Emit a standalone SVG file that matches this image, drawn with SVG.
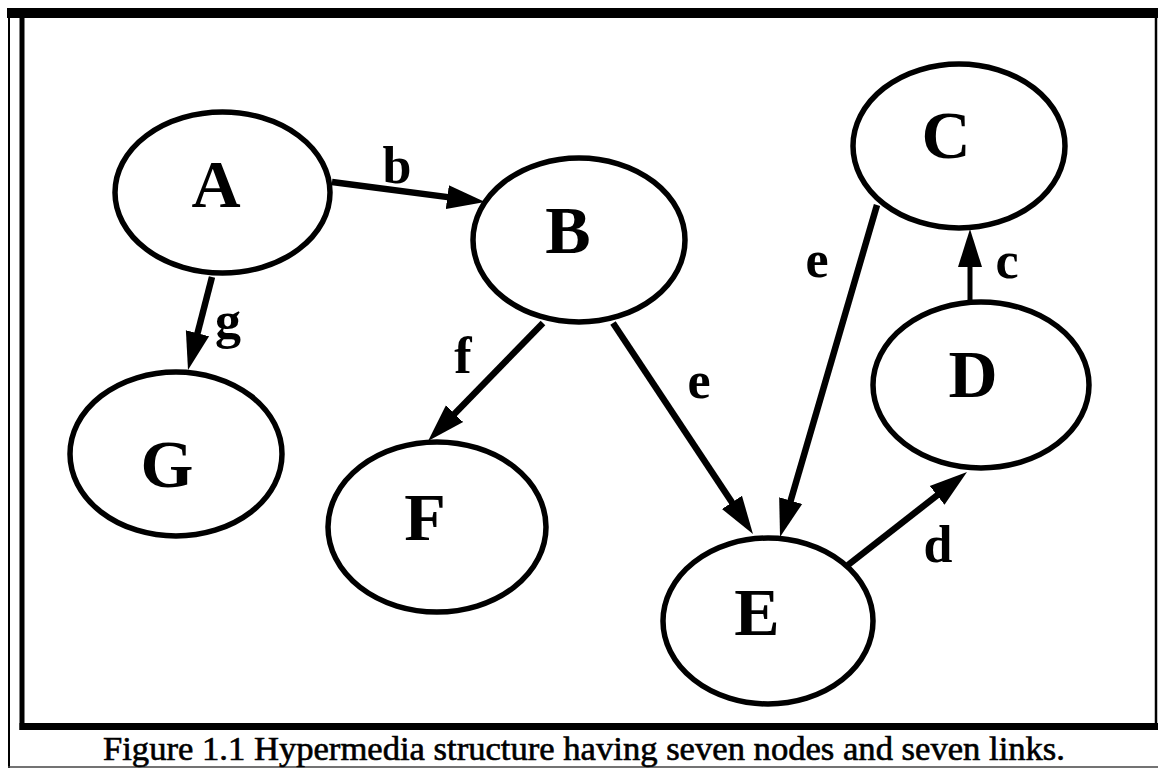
<svg xmlns="http://www.w3.org/2000/svg" width="1158" height="770" viewBox="0 0 1158 770">
  <style>
    .node { fill: #fff; stroke: #000; stroke-width: 5.5; }
    .nlabel { font-family: "Liberation Serif", "Times New Roman", serif; font-weight: bold; font-size: 68px; text-anchor: middle; fill: #000; }
    .elabel { font-family: "Liberation Serif", "Times New Roman", serif; font-weight: bold; font-size: 52px; text-anchor: middle; fill: #000; }
    .edge { stroke: #000; stroke-width: 6.5; fill: none; marker-end: url(#arrow); }
    .caption { font-family: "Liberation Serif", "Times New Roman", serif; font-size: 33px; text-anchor: middle; fill: #000; stroke: #000; stroke-width: 0.6; }
  </style>
  <defs>
    <marker id="arrow" markerUnits="userSpaceOnUse" markerWidth="40" markerHeight="28" viewBox="0 -14 40 28" refX="16" refY="0" orient="auto">
      <path d="M0,-12 L38,0 L0,12 z" fill="#000"/>
    </marker>
  </defs>
  <rect width="1158" height="770" fill="#fff"/>

  <g id="frame">
    <rect x="7" y="8" width="1151" height="10" fill="#000"/>
    <line x1="9" y1="10" x2="9" y2="768" stroke="#000" stroke-width="2"/>
    <rect x="19.5" y="13" width="5" height="717" fill="#000"/>
    <rect x="19.5" y="723" width="1138.5" height="7" fill="#000"/>
    <line x1="1156" y1="13" x2="1156" y2="730" stroke="#000" stroke-width="2.5"/>
    <line x1="8" y1="767" x2="1158" y2="767" stroke="#444" stroke-width="1.5"/>
  </g>

  <g id="connectors">
    <g id="edge-b">
      <line class="edge" x1="332" y1="182" x2="463.2" y2="199.1"/>
      <text class="elabel" x="397" y="183">b</text>
    </g>
    <g id="edge-g">
      <line class="edge" x1="212" y1="277" x2="193.5" y2="348.7"/>
      <text class="elabel" x="228" y="338">g</text>
    </g>
    <g id="edge-f">
      <line class="edge" x1="543" y1="323" x2="443.4" y2="425.2"/>
      <text class="elabel" x="463" y="373">f</text>
    </g>
    <g id="edge-e1">
      <line class="edge" x1="613" y1="323" x2="740.8" y2="515.7"/>
      <text class="elabel" x="699" y="398">e</text>
    </g>
    <g id="edge-e2">
      <line class="edge" x1="877" y1="205" x2="786.2" y2="515.9"/>
      <text class="elabel" x="817" y="277">e</text>
    </g>
    <g id="edge-d">
      <line class="edge" x1="848" y1="565" x2="949.7" y2="485.5"/>
      <text class="elabel" x="938" y="562">d</text>
    </g>
    <g id="edge-c">
      <line class="edge" style="stroke-width:5" x1="970" y1="300" x2="970" y2="251"/>
      <text class="elabel" x="1007" y="278">c</text>
    </g>
  </g>

  <g id="node-A">
    <ellipse class="node" cx="222.5" cy="192.5" rx="107.5" ry="80.5"/>
    <text class="nlabel" x="216" y="207">A</text>
  </g>
  <g id="node-B">
    <ellipse class="node" cx="579" cy="240" rx="106" ry="82"/>
    <text class="nlabel" x="568" y="253">B</text>
  </g>
  <g id="node-C">
    <ellipse class="node" cx="959" cy="146" rx="106" ry="82"/>
    <text class="nlabel" x="946" y="158">C</text>
  </g>
  <g id="node-D">
    <ellipse class="node" cx="981" cy="385" rx="108" ry="83"/>
    <text class="nlabel" x="973" y="397">D</text>
  </g>
  <g id="node-E">
    <ellipse class="node" cx="768" cy="621" rx="105" ry="83"/>
    <text class="nlabel" x="757" y="635">E</text>
  </g>
  <g id="node-F">
    <ellipse class="node" cx="437" cy="527" rx="109" ry="85"/>
    <text class="nlabel" x="425" y="540">F</text>
  </g>
  <g id="node-G">
    <ellipse class="node" cx="176" cy="454" rx="106" ry="82"/>
    <text class="nlabel" x="167" y="487">G</text>
  </g>

  <text class="caption" x="584" y="760" textLength="962" lengthAdjust="spacingAndGlyphs">Figure 1.1 Hypermedia structure having seven nodes and seven links.</text>
</svg>
